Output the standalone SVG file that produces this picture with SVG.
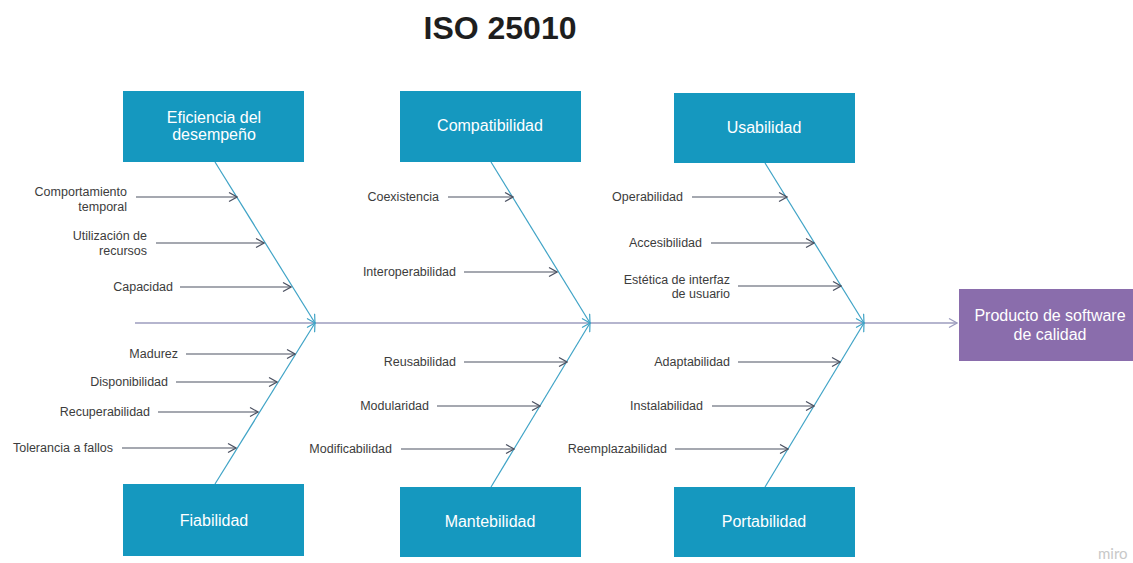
<svg xmlns="http://www.w3.org/2000/svg" width="1133" height="563" viewBox="0 0 1133 563">
<style>
.box{fill:#1598bf}
.prod{fill:#8a6dac}
.bt{font-family:"Liberation Sans",Arial,sans-serif;font-size:16px;fill:#ffffff;text-anchor:middle}
.lb{font-family:"Liberation Sans",Arial,sans-serif;font-size:12.5px;fill:#3c3c3c;text-anchor:end}
.title{font-family:"Liberation Sans",Arial,sans-serif;font-size:32px;font-weight:bold;fill:#1e1e1e;text-anchor:middle}
.br{stroke:#4c5262;stroke-width:1.2;fill:none;marker-end:url(#ag)}
.dg{stroke:#3fa3c6;stroke-width:1.2;fill:none;marker-end:url(#ac)}
.sp{stroke:#9c9cbe;stroke-width:1.5;fill:none}
</style>
<defs>
<marker id="ag" viewBox="0 0 10 10" refX="9" refY="5" markerWidth="10" markerHeight="10" markerUnits="userSpaceOnUse" orient="auto">
<path d="M1,0.5 L9,5 L1,9.5" fill="none" stroke="#4c5262" stroke-width="1.2"/>
</marker>
<marker id="ac" viewBox="0 0 10 10" refX="9" refY="5" markerWidth="10" markerHeight="10" markerUnits="userSpaceOnUse" orient="auto">
<path d="M1,0.5 L9,5 L1,9.5" fill="none" stroke="#3fa3c6" stroke-width="1.2"/>
</marker>
<marker id="as" viewBox="0 0 10 10" refX="9" refY="5" markerWidth="10" markerHeight="10" markerUnits="userSpaceOnUse" orient="auto">
<path d="M1,0.5 L9,5 L1,9.5" fill="none" stroke="#9c9cbe" stroke-width="1.2"/>
</marker>
</defs>
<rect width="1133" height="563" fill="#ffffff"/>
<text class="title" x="500" y="39">ISO 25010</text>

<g id="connectors">
<line class="sp" x1="135" y1="323" x2="957" y2="323" marker-end="url(#as)"/>
<line class="dg" x1="215" y1="162" x2="315" y2="323"/>
<line class="dg" x1="215" y1="484" x2="315" y2="323"/>
<line class="dg" x1="491" y1="162" x2="590" y2="323"/>
<line class="dg" x1="491" y1="487" x2="590" y2="323"/>
<line class="dg" x1="765" y1="163" x2="864" y2="323"/>
<line class="dg" x1="765" y1="487" x2="864" y2="323"/>
<line class="br" x1="136" y1="197" x2="237" y2="197"/>
<line class="br" x1="156" y1="243" x2="264" y2="243"/>
<line class="br" x1="180" y1="287" x2="291" y2="287"/>
<line class="br" x1="186" y1="354" x2="295" y2="354"/>
<line class="br" x1="176" y1="382" x2="277" y2="382"/>
<line class="br" x1="158" y1="412" x2="258" y2="412"/>
<line class="br" x1="122" y1="448" x2="236" y2="448"/>
<line class="br" x1="448" y1="197" x2="513" y2="197"/>
<line class="br" x1="464" y1="272" x2="557" y2="272"/>
<line class="br" x1="464" y1="362" x2="567" y2="362"/>
<line class="br" x1="437" y1="406" x2="540" y2="406"/>
<line class="br" x1="401" y1="449" x2="514" y2="449"/>
<line class="br" x1="692" y1="197" x2="787" y2="197"/>
<line class="br" x1="711" y1="243" x2="814" y2="243"/>
<line class="br" x1="738" y1="286" x2="841" y2="286"/>
<line class="br" x1="738" y1="362" x2="840" y2="362"/>
<line class="br" x1="712" y1="406" x2="814" y2="406"/>
<line class="br" x1="675" y1="449" x2="788" y2="449"/>
</g>

<g id="labels">
<text class="lb" x="127" y="196">Comportamiento</text>
<text class="lb" x="127" y="211">temporal</text>
<text class="lb" x="147" y="240">Utilización de</text>
<text class="lb" x="147" y="255">recursos</text>
<text class="lb" x="173" y="291">Capacidad</text>
<text class="lb" x="178" y="358">Madurez</text>
<text class="lb" x="168" y="386">Disponibilidad</text>
<text class="lb" x="150" y="416">Recuperabilidad</text>
<text class="lb" x="113" y="452">Tolerancia a fallos</text>
<text class="lb" x="439" y="201">Coexistencia</text>
<text class="lb" x="456" y="276">Interoperabilidad</text>
<text class="lb" x="456" y="366">Reusabilidad</text>
<text class="lb" x="429" y="410">Modularidad</text>
<text class="lb" x="392" y="453">Modificabilidad</text>
<text class="lb" x="683" y="201">Operabilidad</text>
<text class="lb" x="702" y="247">Accesibilidad</text>
<text class="lb" x="730" y="284">Estética de interfaz</text>
<text class="lb" x="730" y="298">de usuario</text>
<text class="lb" x="730" y="366">Adaptabilidad</text>
<text class="lb" x="703" y="410">Instalabilidad</text>
<text class="lb" x="667" y="453">Reemplazabilidad</text>
</g>

<g id="eficiencia">
<rect class="box" x="123" y="91" width="181" height="71"/>
<text class="bt" x="214" y="123">Eficiencia del</text>
<text class="bt" x="214" y="140">desempeño</text>
</g>
<g id="fiabilidad">
<rect class="box" x="123" y="484" width="181" height="72"/>
<text class="bt" x="214" y="526">Fiabilidad</text>
</g>
<g id="compatibilidad">
<rect class="box" x="400" y="91" width="181" height="71"/>
<text class="bt" x="490" y="131">Compatibilidad</text>
</g>
<g id="mantebilidad">
<rect class="box" x="400" y="487" width="181" height="70"/>
<text class="bt" x="490" y="527">Mantebilidad</text>
</g>
<g id="usabilidad">
<rect class="box" x="674" y="93" width="181" height="70"/>
<text class="bt" x="764" y="133">Usabilidad</text>
</g>
<g id="portabilidad">
<rect class="box" x="674" y="487" width="181" height="70"/>
<text class="bt" x="764" y="527">Portabilidad</text>
</g>
<g id="producto">
<rect class="prod" x="959" y="289" width="182" height="72"/>
<text class="bt" x="1050" y="321">Producto de software</text>
<text class="bt" x="1050" y="340">de calidad</text>
</g>
<text x="1098" y="559" font-family="Lato,'Liberation Sans',sans-serif" font-size="15" fill="#c8c8c8">miro</text>
</svg>
